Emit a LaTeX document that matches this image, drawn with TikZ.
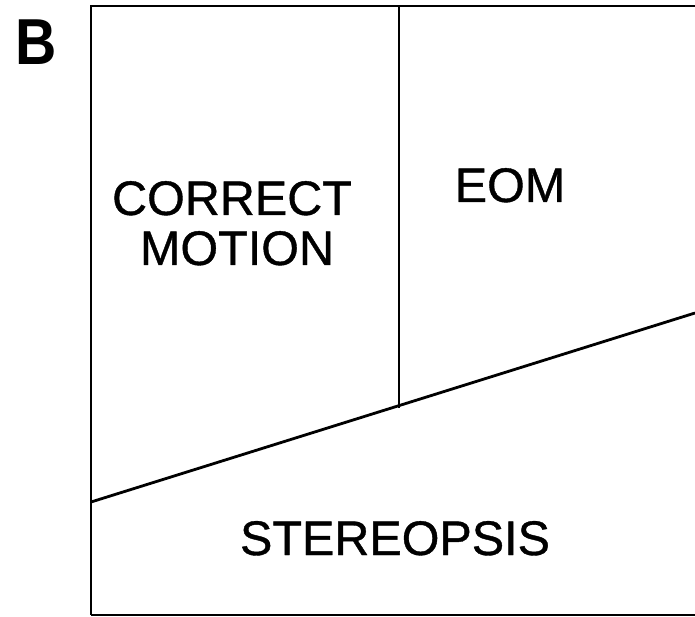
\documentclass[tikz,border=0pt]{standalone}
\usepackage{fontspec}
\setmainfont{Liberation Sans}
\newfontfamily\labfont[FakeBold=0.8]{Liberation Sans}
\begin{document}
\begin{tikzpicture}[x=1pt,y=-1pt,
  lbl/.style={font=\labfont\fontsize{48.5}{50}\selectfont, inner sep=0pt, anchor=base},
  frame/.style={line width=2.8pt},
  divider/.style={line width=2.2pt}]
\useasboundingbox (0,0) rectangle (695,617);
% frame
\coordinate (tl) at (91,6);
\coordinate (bl) at (91,615);
\coordinate (tr) at (700,6);
\coordinate (br) at (700,615);
\draw[frame] (tr) -- (tl) -- (bl);
\draw[line width=1.4pt] (bl) -- (br);
% diagonal
\coordinate (dl) at (91,502);
\coordinate (dr) at (695,313);
\draw[frame] (dl) -- (dr);
% vertical divider
\coordinate (vt) at (399,6);
\coordinate (vb) at (399,408);
\draw[divider] (vt) -- (vb);
% labels
\node[font=\fontsize{65}{65}\selectfont\bfseries, inner sep=0pt, anchor=base, xscale=0.88] (B) at (36.5,65) {B};
\node[lbl] (cm1) at (232,215) {CORRECT};
\node[lbl] (cm2) at (237,265) {MOTION};
\node[lbl] (eom) at (510,202) {EOM};
\node[lbl] (st) at (395,555) {STEREOPSIS};
\end{tikzpicture}
\end{document}
